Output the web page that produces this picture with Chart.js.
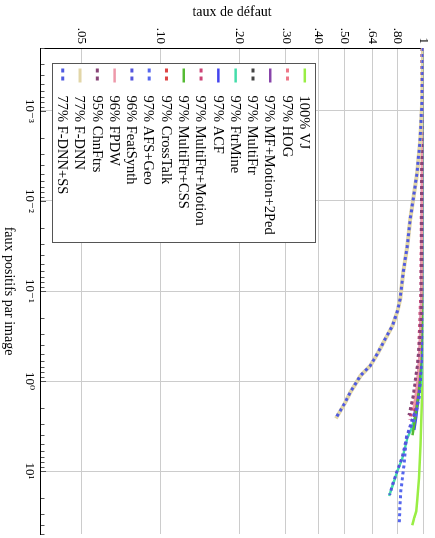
<!DOCTYPE html>
<html>
<head>
<meta charset="utf-8">
<script src="https://cdn.jsdelivr.net/npm/chart.js@4"></script>
<style>
  html, body { margin: 0; padding: 0; background: #fff; overflow: hidden; }
  /* the figure is drawn landscape, then turned a quarter clockwise */
  #wrap { position: absolute; left: 0; top: 0; width: 538px; height: 435px;
          transform-origin: 0 0; transform: translateX(435px) rotate(90deg); }
</style>
</head>
<body>
<div id="wrap"><canvas id="myChart" width="538" height="435"></canvas></div>
<script>
// Axis ticks
const fppiTicks = [1e-3, 1e-2, 1e-1, 1, 10];
const fppiLabels = ['10⁻³', '10⁻²', '10⁻¹', '10⁰', '10¹'];
const missTicks = [0.05, 0.10, 0.20, 0.30, 0.40, 0.50, 0.64, 0.80, 1];
const missLabels = ['.05', '.10', '.20', '.30', '.40', '.50', '.64', '.80', '1'];

// Legend entries (log-average miss rate + method), in legend order
const methods = ['100% VJ', '97% HOG', '97% MF+Motion+2Ped', '97% MultiFtr', '97% FtrMine',
  '97% ACF', '97% MultiFtr+Motion', '97% MultiFtr+CSS', '97% CrossTalk', '97% AFS+Geo',
  '96% FeatSynth', '96% FPDW', '95% ChnFtrs', '77% F-DNN', '77% F-DNN+SS'];
const colors = ['#99ee44', '#ee7788', '#8844aa', '#444444', '#44ddaa',
  '#4444ee', '#cc4477', '#55bb33', '#dd4444', '#5566ee',
  '#5555dd', '#ee99aa', '#884477', '#e2d6a8', '#4f5ae0'];
const dotted = [false, true, false, true, false,
  false, true, false, true, true,
  true, false, true, false, true];

// Curves: [false positives per image, miss rate]
const vj = [[2e-4, 1], [0.07, 0.998], [1, 0.993], [5.2, 0.977], [12, 0.963], [21, 0.95], [28, 0.94], [33, 0.924], [40, 0.909]];
const hog = [[2e-4, 0.997], [0.05, 0.99], [0.3, 0.978], [1, 0.955], [2, 0.935], [3.3, 0.915]];
const mfMotion2Ped = [[2e-4, 0.995], [0.1, 0.985], [0.5, 0.97], [1.2, 0.95], [2.5, 0.925]];
const multiFtr = [[2e-4, 0.997], [0.1, 0.99], [0.6, 0.97], [1.5, 0.945], [2.5, 0.925], [3.6, 0.912]];
const ftrMine = [[2e-4, 1], [0.3, 0.995], [1, 0.98], [1.5, 0.96], [2.4, 0.935], [3.3, 0.905], [4.3, 0.87], [7.2, 0.833], [10, 0.797], [14.6, 0.764], [18.9, 0.742]];
const acf = [[2e-4, 1], [0.1, 0.995], [0.6, 0.98], [1.5, 0.96], [2.5, 0.94], [3.5, 0.925]];
const multiFtrMotion = [[2e-4, 0.993], [0.1, 0.98], [0.5, 0.96], [1.2, 0.935], [2, 0.905], [2.7, 0.89]];
const multiFtrCss = [[2e-4, 0.998], [0.2, 0.99], [1, 0.97], [2, 0.945], [3, 0.925], [4, 0.91]];
const crossTalk = [[2e-4, 0.996], [0.15, 0.985], [0.7, 0.965], [1.6, 0.94], [2.7, 0.92]];
const afsGeo = [[2e-4, 0.998], [0.5, 0.99], [1.5, 0.965], [2.6, 0.93], [4, 0.865], [8.5, 0.845], [16.6, 0.822], [25, 0.815], [39.5, 0.81]];
const featSynth = [[2e-4, 0.996], [0.3, 0.99], [1, 0.975], [2, 0.945], [2.6, 0.91], [4.3, 0.865], [7.2, 0.83], [10, 0.795], [14.6, 0.762], [18.4, 0.745]];
const fpdw = [[2e-4, 0.994], [0.1, 0.985], [0.6, 0.965], [1.3, 0.94], [2, 0.92]];
const chnFtrs = [[2e-4, 0.99], [0.17, 0.983], [0.34, 0.97], [0.61, 0.955], [0.94, 0.935], [1.45, 0.917], [2, 0.895], [2.4, 0.883]];
const fDnn = [[2e-4, 1], [7.6e-4, 0.991], [2.1e-3, 0.974], [4.8e-3, 0.949], [8e-3, 0.925], [0.016, 0.893], [0.032, 0.87],
  [0.062, 0.84], [0.122, 0.818], [0.17, 0.797], [0.244, 0.764], [0.339, 0.718], [0.497, 0.67], [0.674, 0.63],
  [0.87, 0.578], [1.31, 0.53], [1.77, 0.503], [2.6, 0.465]];
const fDnnSs = [[2e-4, 1], [7.6e-4, 0.99], [2.1e-3, 0.973], [4.8e-3, 0.948], [8e-3, 0.924], [0.016, 0.892], [0.032, 0.869],
  [0.062, 0.839], [0.122, 0.817], [0.17, 0.796], [0.244, 0.763], [0.339, 0.717], [0.497, 0.669], [0.674, 0.629],
  [0.87, 0.577], [1.31, 0.529], [1.77, 0.502], [2.6, 0.464]];

const curves = [vj, hog, mfMotion2Ped, multiFtr, ftrMine, acf, multiFtrMotion, multiFtrCss,
  crossTalk, afsGeo, featSynth, fpdw, chnFtrs, fDnn, fDnnSs];

const serif = '"Liberation Serif", "DejaVu Serif", serif';

// every 1..9 x 10^n between the axis limits gets a small tick mark
const fppiMin = 2e-4, fppiMax = 50;
const fppiAll = [];
for (let e = -4; e <= 1; e++) {
  for (let k = 1; k <= 9; k++) {
    const v = k * Math.pow(10, e);
    if (v >= fppiMin * 0.999 && v <= fppiMax * 1.001) fppiAll.push(v);
  }
}
const isMajor = v => fppiTicks.some(t => Math.abs(v / t - 1) < 1e-6);

const datasets = methods.map((name, i) => ({
  label: name,
  data: curves[i].map(p => ({ x: p[0], y: p[1] })),
  borderColor: colors[i],
  backgroundColor: colors[i],
  borderWidth: dotted[i] ? 3 : (name === '77% F-DNN' ? 4 : 2.5),
  borderDash: dotted[i] ? [3, 3] : [],
  pointRadius: 0,
  tension: 0,
  order: -i          // later entries on top
}));

// short inward tick marks on the FPPI axis
const tickMarks = {
  id: 'tickMarks',
  beforeDatasetsDraw(chart) {
    const c = chart.ctx, xs = chart.scales.x, b = chart.chartArea.bottom;
    c.save();
    c.strokeStyle = '#555';
    c.lineWidth = 1;
    fppiAll.forEach(v => {
      const px = Math.round(xs.getPixelForValue(v)) + 0.5;
      const len = isMajor(v) ? 5 : 3.5;
      c.beginPath(); c.moveTo(px, b); c.lineTo(px, b - len); c.stroke();
    });
    c.restore();
  }
};

// boxed legend in the lower-left corner of the plot
const legendBox = {
  id: 'legendBox',
  afterDatasetsDraw(chart) {
    const c = chart.ctx, a = chart.chartArea;
    const w = 179, h = 263, rowH = 17.29;
    const x0 = Math.round(a.left + 15) + 0.5, y0 = Math.round(a.bottom - 12 - h) + 0.5;
    c.save();
    c.fillStyle = '#fff';
    c.fillRect(x0, y0, w, h);
    c.strokeStyle = '#555'; c.lineWidth = 1;
    c.strokeRect(x0, y0, w, h);
    c.font = '14.5px ' + serif;
    c.textBaseline = 'middle';
    chart.data.datasets.forEach((ds, i) => {
      const y = y0 + 10.7 + i * rowH;
      c.strokeStyle = ds.borderColor;
      c.lineWidth = Math.min(ds.borderWidth, 3);
      c.setLineDash(ds.borderDash.length ? [4, 4] : []);
      c.beginPath(); c.moveTo(x0 + 5, y); c.lineTo(x0 + 19, y); c.stroke();
      c.setLineDash([]);
      c.fillStyle = '#000';
      c.fillText(ds.label, x0 + 32, y + 1);
    });
    c.restore();
  }
};

const ctx = document.getElementById('myChart');
const myChart = new Chart(ctx, {
  type: 'scatter',
  data: { datasets },
  options: {
    responsive: false,
    devicePixelRatio: 1,
    animation: false,
    showLine: true,
    layout: { padding: { top: 9, right: 2, left: 0, bottom: 0 } },
    plugins: { legend: { display: false }, tooltip: { enabled: false } },
    scales: {
      x: {
        type: 'logarithmic',
        min: fppiMin,
        max: fppiMax,
        afterBuildTicks: s => { s.ticks = fppiAll.map(v => ({ value: v })); },
        afterFit: s => { s.height = 41; },
        ticks: {
          autoSkip: false, maxRotation: 0, padding: 4, color: '#000',
          font: { family: serif, size: 13 },
          callback: v => { const i = fppiTicks.findIndex(t => Math.abs(v / t - 1) < 1e-6); return i < 0 ? '' : fppiLabels[i]; }
        },
        grid: { color: c => (c.tick && isMajor(c.tick.value)) ? '#cccccc' : 'rgba(0,0,0,0)', drawTicks: false },
        border: { color: '#000', width: 1 },
        title: { display: true, text: 'faux positifs par image', color: '#000',
          font: { family: serif, size: 14 }, padding: 0 }
      },
      y: {
        type: 'logarithmic',
        min: 0.035,
        max: 1,
        afterBuildTicks: s => { s.ticks = missTicks.map(v => ({ value: v })); },
        afterFit: s => { s.width = 48; },
        ticks: {
          autoSkip: false, padding: 4, color: '#000',
          font: { family: serif, size: 13 },
          callback: v => { const i = missTicks.findIndex(t => Math.abs(v / t - 1) < 1e-6); return i < 0 ? '' : missLabels[i]; }
        },
        grid: { color: '#cccccc', drawTicks: false },
        border: { color: '#000', width: 1 },
        title: { display: true, text: 'taux de défaut', color: '#000',
          font: { family: serif, size: 14 }, padding: { top: 4, bottom: 0 } }
      }
    }
  },
  plugins: [tickMarks, legendBox]
});
</script>
</body>
</html>
